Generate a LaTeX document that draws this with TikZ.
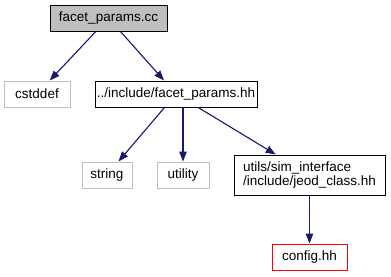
\documentclass[tikz,border=0pt]{standalone}
\usepackage{fontspec}
\setmainfont{Liberation Sans}
\usetikzlibrary{arrows.meta}
\definecolor{edgeblue}{RGB}{25,25,112}
\definecolor{extgray}{RGB}{191,191,191}

\begin{document}
\begin{tikzpicture}[x=1pt,y=-1pt,
  font=\fontsize{13.5}{14.5}\selectfont,
  file/.style={draw,line width=1pt,minimum height=26pt,inner sep=0pt,align=center},
  ext/.style={file,draw=extgray},
  cur/.style={file,fill=extgray},
  miss/.style={file,draw=red},
  arr/.style={-{Triangle[length=10pt,width=7.5pt]},line width=1.1pt,draw=edgeblue,fill=edgeblue}]
\useasboundingbox[fill=white] (0,0) rectangle (391,276);
% include graph of facet_params.cc
\node[cur,minimum width=117pt] (src) at (108.5,18) {facet\_params.cc};
\node[ext,minimum width=66pt] (cstddef) at (37,94) {cstddef};
\node[file,minimum width=162pt] (inc) at (176,94) {../include/facet\_params.hh};
\node[ext,minimum width=50pt] (string) at (107,175) {string};
\node[ext,minimum width=52pt] (utility) at (183,175) {utility};
\node[file,minimum width=151pt,minimum height=40pt,align=left] (jeod) at (309.5,175) {utils/sim\_interface\\/include/jeod\_class.hh};
\node[miss,minimum width=75pt] (config) at (309.5,257) {config.hh};
\draw[arr] (src) -- (cstddef);
\draw[arr] (src) -- (inc);
\draw[arr] (inc) -- (string);
\draw[arr] (utility.north |- inc.south) -- (utility);
\draw[arr] (inc) -- (jeod);
\draw[arr] (jeod) -- (config);
\end{tikzpicture}
\end{document}
